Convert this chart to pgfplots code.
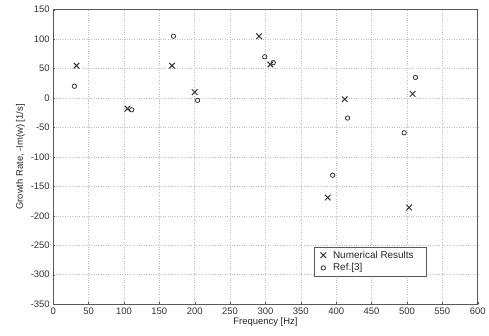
\documentclass[border=0pt]{standalone}
\usepackage{pgfplots}
\pgfplotsset{compat=1.18}
\usepackage{fontspec}
\setmainfont{Liberation Sans}
\begin{document}
\begin{tikzpicture}
\begin{axis}[
  scale only axis,
  width=425.7bp, height=295.3bp,
  xmin=0, xmax=600, ymin=-350, ymax=150,
  xtick={0,50,...,600}, ytick={-350,-300,...,150},
  grid=major,
  grid style={dotted, gray!50, line width=0.6pt},
  axis line style={gray!70!black, line width=0.9pt},
  tick style={gray!70!black},
  tick align=inside,
  major tick length=2pt,
  xtick pos=bottom, ytick pos=left,
  ticklabel style={font=\fontsize{9.5}{10}\selectfont, text=black!80},
  label style={font=\fontsize{9.5}{10}\selectfont, text=black!85},
  /pgf/number format/assume math mode=true,
  xlabel={Frequency [Hz]},
  ylabel={Growth Rate, -Im(w) [1/s]},
  xlabel style={yshift=4pt},
  ylabel style={yshift=-1pt},
  legend style={at={(0.88,0.096)}, anchor=south east, draw=gray!70!black,
    font=\fontsize{10}{10.5}\selectfont, text=black!85, inner xsep=6pt, inner ysep=1.5pt,
    nodes={inner xsep=7pt},
    cells={anchor=west}, row sep=0pt},
  legend cell align=left,
]
\addplot[only marks, mark=x, mark size=4pt, line width=1pt, black!80]
  coordinates {(33,55) (105,-18) (168,55) (200,10) (291,105) (307,57)
  (412,-2) (508,7) (388,-169) (503,-186)};
\addlegendentry{Numerical Results}
\addplot[only marks, mark=o, mark size=2.2pt, line width=0.8pt, black!80]
  coordinates {(30,20) (111,-20) (170,105) (204,-4) (299,70) (311,60)
  (512,35) (416,-34) (496,-59) (395,-131)};
\addlegendentry{Ref.[3]}
\end{axis}
\useasboundingbox (-53.3bp,-31bp) rectangle (437bp,305bp);
\end{tikzpicture}
\end{document}
